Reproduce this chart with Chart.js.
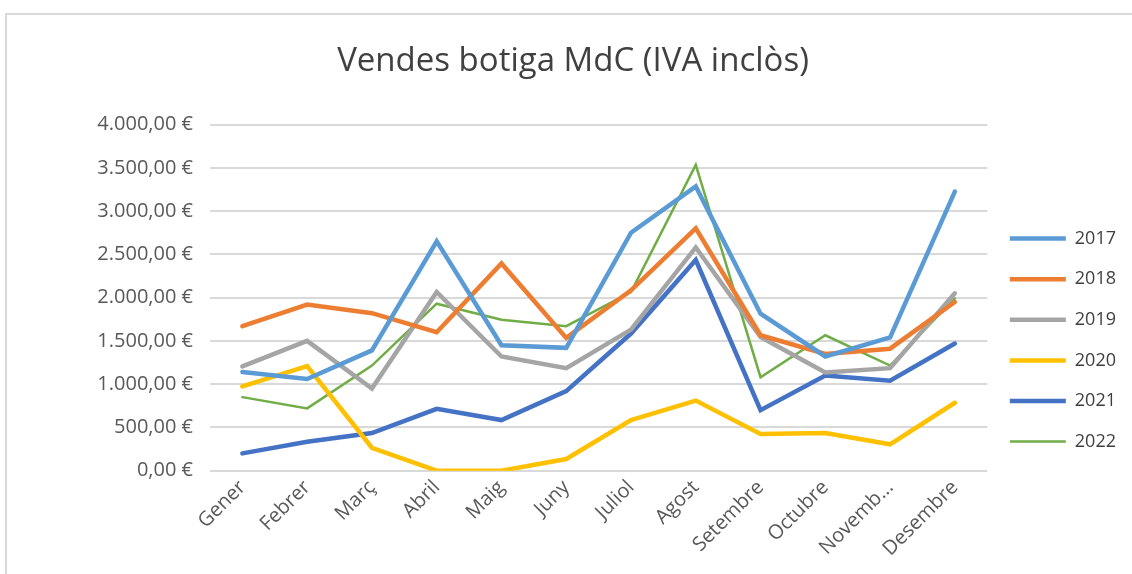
<!DOCTYPE html>
<html>
<head>
<meta charset="utf-8">
<script src="https://cdn.jsdelivr.net/npm/chart.js@4/dist/chart.umd.min.js"></script>
<style>
  body { margin: 0; background: #fff; }
  #frame { position: absolute; left: 5px; top: 13px; width: 1200px; height: 700px; border: 2px solid #d9d9d9; }
  #wrap { position: absolute; left: 0; top: 0; width: 1132px; height: 574px; }
</style>
</head>
<body>
<div id="frame"></div>
<div id="wrap"><canvas id="thecanvas"></canvas></div>
<script>
// dades llegides del gràfic
const mesos = ['Gener', 'Febrer', 'Març', 'Abril', 'Maig', 'Juny', 'Juliol', 'Agost', 'Setembre', 'Octubre', 'Novembre', 'Desembre'];
const anys = ['2017', '2018', '2019', '2020', '2021', '2022'];
const v2017 = [1140, 1060, 1390, 2650, 1450, 1420, 2750, 3285, 1815, 1320, 1540, 3225];
const v2018 = [1670, 1920, 1820, 1600, 2395, 1535, 2085, 2800, 1565, 1350, 1410, 1950];
const v2019 = [1205, 1500, 950, 2065, 1320, 1185, 1630, 2580, 1545, 1135, 1185, 2050];
const v2020 = [975, 1210, 265, 0, 0, 135, 585, 810, 425, 435, 305, 785];
const v2021 = [200, 335, 435, 715, 585, 920, 1585, 2435, 700, 1100, 1040, 1470];
const v2022 = [850, 720, 1215, 1930, 1745, 1670, 2065, 3535, 1080, 1565, 1215, 1990];
const colors = ['#5b9bd5', '#ed7d31', '#a5a5a5', '#ffc000', '#4472c4', '#70ad47'];
const gruixos = [4.5, 4.5, 4.5, 4.5, 4.5, 2.5];

const fontname = "'Open Sans', sans-serif";
const allvals = [v2017, v2018, v2019, v2020, v2021, v2022];

function formateuro(v) {
    let parts = v.toFixed(2).split('.');
    let ent = parts[0].replace(/\B(?=(\d{3})+(?!\d))/g, '.');
    return ent + ',' + parts[1] + ' €';
}

const datasets = [];
for (let i = 0; i < anys.length; i++) {
    datasets.push({
        label: anys[i],
        data: allvals[i],
        borderColor: colors[i],
        backgroundColor: colors[i],
        borderWidth: gruixos[i],
        pointRadius: 0,
        pointHoverRadius: 0,
        pointStyle: 'line',
        borderCapStyle: 'round',
        borderJoinStyle: 'miter',
        tension: 0
    });
}

const ctx = document.getElementById('thecanvas');
new Chart(ctx, {
    type: 'line',
    data: { labels: mesos, datasets: datasets },
    options: {
        responsive: true,
        maintainAspectRatio: false,
        animation: false,
        layout: { padding: { left: 20, right: 6, top: 42, bottom: 8 } },
        plugins: {
            title: {
                display: true,
                text: 'Vendes botiga MdC (IVA inclòs)',
                color: '#404040',
                font: { family: fontname, size: 33, weight: 'normal' },
                padding: { top: 0, bottom: 43 }
            },
            legend: {
                position: 'right',
                labels: {
                    usePointStyle: true,
                    pointStyleWidth: 56,
                    color: '#404040',
                    font: { family: fontname, size: 18 },
                    padding: 22.6
                },
                title: { display: true, text: ' ', padding: { top: 71, bottom: 0 }, font: { size: 1 } }
            },
            tooltip: { enabled: false }
        },
        scales: {
            x: {
                offset: true,
                grid: { display: false, drawTicks: false },
                border: { display: false },
                ticks: {
                    color: '#595959',
                    font: { family: fontname, size: 20 },
                    maxRotation: 45,
                    minRotation: 45,
                    autoSkip: false,
                    padding: 5,
                    callback: function (val, idx) {
                        const l = mesos[idx];
                        return l === 'Novembre' ? 'Novemb...' : l;
                    }
                }
            },
            y: {
                min: 0,
                max: 4000,
                afterFit: function (s) { s.width = 190; },
                grid: { color: '#d9d9d9', lineWidth: 2, drawTicks: false },
                border: { display: false },
                ticks: {
                    stepSize: 500,
                    color: '#595959',
                    font: { family: fontname, size: 20 },
                    padding: 17,
                    callback: function (v) { return formateuro(v); }
                }
            }
        }
    }
});
</script>
</body>
</html>
